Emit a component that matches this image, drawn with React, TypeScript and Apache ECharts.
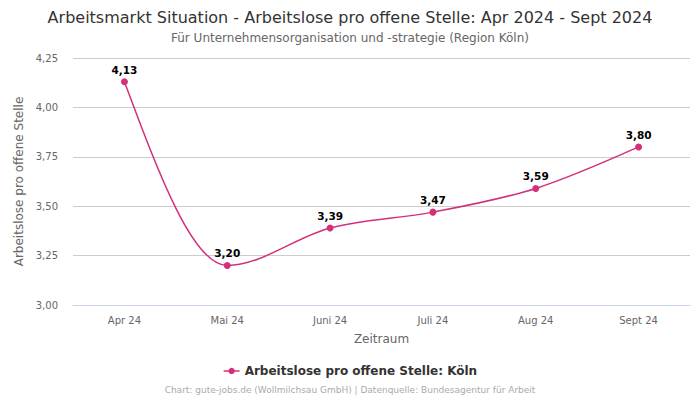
import React, { useEffect, useRef } from "react";
import * as echarts from "echarts";

const categories = ["Apr 24", "Mai 24", "Juni 24", "Juli 24", "Aug 24", "Sept 24"];
const values = [4.13, 3.2, 3.39, 3.47, 3.59, 3.8];
const yTicks = { min: 3, max: 4.25, interval: 0.25 };
const seriesName = "Arbeitslose pro offene Stelle: Köln";
const titleText = "Arbeitsmarkt Situation - Arbeitslose pro offene Stelle: Apr 2024 - Sept 2024";
const subtitleText = "Für Unternehmensorganisation und -strategie (Region Köln)";
const footerText = "Chart: gute-jobs.de (Wollmilchsau GmbH) | Datenquelle: Bundesagentur für Arbeit";

const fmt = (v: number) => v.toFixed(2).replace(".", ",");
const FONT = "DejaVu Sans";
const COLOR = "#d3307c";

// Monotone cubic path (Fritsch–Carlson, like d3.curveMonotoneX) through pixel points
function monotonePath(pts: number[][]): string {
  const n = pts.length;
  if (n < 2) return "";
  const sign = (v: number) => (v < 0 ? -1 : 1);
  const t: number[] = new Array(n).fill(0);
  for (let i = 1; i < n - 1; i++) {
    const [x0, y0] = pts[i - 1];
    const [x1, y1] = pts[i];
    const [x2, y2] = pts[i + 1];
    const h0 = x1 - x0;
    const h1 = x2 - x1;
    const s0 = (y1 - y0) / h0;
    const s1 = (y2 - y1) / h1;
    const p = (s0 * h1 + s1 * h0) / (h0 + h1);
    t[i] = (sign(s0) + sign(s1)) * Math.min(Math.abs(s0), Math.abs(s1), 0.5 * Math.abs(p)) || 0;
  }
  const end = (a: number[], b: number[], tt: number) => {
    const h = b[0] - a[0];
    return h ? (3 * (b[1] - a[1]) / h - tt) / 2 : tt;
  };
  if (n === 2) {
    const s = (pts[1][1] - pts[0][1]) / (pts[1][0] - pts[0][0]);
    t[0] = s;
    t[1] = s;
  } else {
    t[0] = end(pts[0], pts[1], t[1]);
    t[n - 1] = end(pts[n - 2], pts[n - 1], t[n - 2]);
  }
  let d = `M${pts[0][0]},${pts[0][1]}`;
  for (let i = 0; i < n - 1; i++) {
    const [x0, y0] = pts[i];
    const [x1, y1] = pts[i + 1];
    const dx = (x1 - x0) / 3;
    d += `C${x0 + dx},${y0 + dx * t[i]},${x1 - dx},${y1 - dx * t[i + 1]},${x1},${y1}`;
  }
  return d;
}

export default function App() {
  const ref = useRef<HTMLDivElement>(null);
  useEffect(() => {
    const chart = echarts.init(ref.current!, null, { renderer: "svg" });
    chart.setOption({
      animation: false,
      textStyle: { fontFamily: FONT },
      title: [
        {
          text: titleText,
          left: "center",
          top: 4,
          textStyle: { fontSize: 16, fontWeight: "normal", color: "#333", fontFamily: FONT },
        },
        {
          text: subtitleText,
          left: "center",
          top: 27,
          textStyle: { fontSize: 12, fontWeight: "normal", color: "#666", fontFamily: FONT },
        },
        {
          text: footerText,
          left: "center",
          top: 380,
          textStyle: { fontSize: 9, fontWeight: "normal", color: "#aaa", fontFamily: FONT },
        },
      ],
      legend: {
        data: [
          {
            name: seriesName,
            lineStyle: { color: COLOR, width: 1.5, opacity: 1 },
          },
        ],
        top: 360,
        left: "center",
        itemWidth: 16,
        itemHeight: 8,
        itemGap: 10,
        textStyle: { fontSize: 12, fontWeight: "bold", color: "#333", fontFamily: FONT },
      },
      grid: { left: 73, right: 10, top: 58, bottom: 95, containLabel: false },
      xAxis: {
        type: "category",
        data: categories,
        boundaryGap: true,
        name: "Zeitraum",
        nameLocation: "middle",
        nameGap: 28,
        nameTextStyle: { fontSize: 12, color: "#666", fontFamily: FONT },
        axisLine: { show: true, lineStyle: { color: "#ccd6eb" } },
        axisTick: { show: false },
        axisLabel: { fontSize: 10, color: "#666", margin: 10, fontFamily: FONT },
      },
      yAxis: {
        type: "value",
        min: yTicks.min,
        max: yTicks.max,
        interval: yTicks.interval,
        name: "Arbeitslose pro offene Stelle",
        nameLocation: "middle",
        nameGap: 46,
        nameTextStyle: { fontSize: 12, color: "#666", fontFamily: FONT },
        axisLine: { show: false },
        axisTick: { show: false },
        splitLine: { lineStyle: { color: "#ccc" } },
        axisLabel: { fontSize: 10, color: "#666", margin: 15, formatter: (v: number) => fmt(v), fontFamily: FONT },
      },
      series: [
        {
          name: "curve",
          type: "custom",
          data: values.map((v, i) => [i, v]),
          z: 1,
          silent: true,
          renderItem: (params: any, api: any) => {
            if (params.dataIndex !== 0) return null;
            const pts = values.map((v, i) => api.coord([i, v]));
            return {
              type: "path",
              shape: { pathData: monotonePath(pts) },
              style: { fill: "none", stroke: COLOR, lineWidth: 1.5 },
            };
          },
        },
        {
          name: seriesName,
          type: "line",
          data: values,
          z: 3,
          symbol: "circle",
          symbolSize: 7,
          itemStyle: { color: COLOR },
          lineStyle: { color: COLOR, width: 1.5, opacity: 0 },
          label: {
            show: true,
            position: "top",
            distance: 3,
            formatter: (p: any) => fmt(p.value),
            fontSize: 10.5,
            fontWeight: "bold",
            color: "#000",
            fontFamily: FONT,
          },
        },
      ],
    });
    return () => chart.dispose();
  }, []);
  return <div ref={ref} style={{ width: 700, height: 400, position: "absolute", left: 0, top: 0 }} />;
}
